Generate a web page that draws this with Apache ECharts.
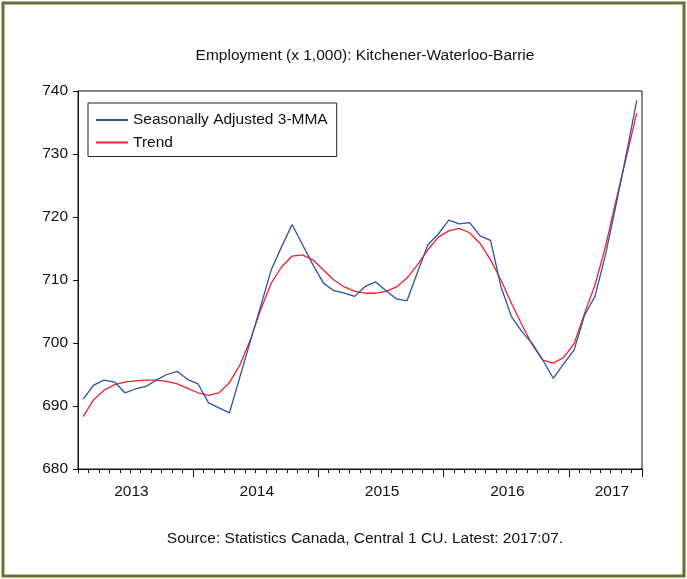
<!DOCTYPE html>
<html>
<head>
<meta charset="utf-8">
<title>Employment Kitchener-Waterloo-Barrie</title>
<script src="https://cdn.jsdelivr.net/npm/echarts@6/dist/echarts.min.js"></script>
<style>
html, body { margin: 0; padding: 0; background: #fff; }
#chart { width: 687px; height: 579px; }
</style>
</head>
<body>
<div id="chart"></div>
<script>
// monthly, 2013:02 .. 2017:07
var months = [];
for (var y = 2013; y <= 2017; y++) {
    for (var m = 1; m <= 12; m++) {
        if (y === 2013 && m < 2) continue;
        if (y === 2017 && m > 7) break;
        months.push(y + ':' + (m < 10 ? '0' + m : m));
    }
}

var seasAdj = [
    691.1, 693.3, 694.1, 693.8, 692.1, 692.7, 693.1, 694.1, 695.0, 695.5, 694.2,
    693.5, 690.5, 689.7, 688.9, 694.6, 700.3, 705.9, 711.6, 715.3, 718.8, 715.6, 712.4, 709.5,
    708.3, 707.9, 707.4, 709.0, 709.7, 708.3, 707.0, 706.7, 711.2, 715.6, 717.3, 719.5,
    718.9, 719.1, 717.0, 716.3, 708.9, 704.2, 701.8, 699.9, 697.3, 694.4, 696.7, 698.9,
    704.4, 707.4, 714.0, 721.8, 730.0, 738.5
];
var trend = [
    688.3, 691.0, 692.5, 693.4, 693.8, 694.0, 694.1, 694.1, 693.9, 693.5, 692.8,
    692.1, 691.7, 692.1, 693.7, 696.5, 700.5, 705.3, 709.5, 712.1, 713.8, 714.0, 713.2, 711.6,
    710.0, 708.9, 708.2, 707.9, 707.9, 708.2, 708.9, 710.3, 712.4, 714.8, 716.8, 717.8,
    718.2, 717.5, 715.8, 713.2, 710.0, 706.3, 702.9, 699.7, 697.3, 696.8, 697.7, 699.9,
    704.7, 709.2, 715.3, 722.5, 729.5, 736.5
];

var yearLabelAt = ['2013:07', '2014:07', '2015:07', '2016:07', '2017:05'];
var seriesNames = ['Seasonally Adjusted 3-MMA', 'Trend'];

var font = '"Liberation Sans", Arial, sans-serif';
var fs = 15.5;
var chart = echarts.init(document.getElementById('chart'));

var option = {
    backgroundColor: '#fff',
    animation: false,
    title: [{
        text: 'Employment (x 1,000): Kitchener-Waterloo-Barrie',
        left: 360,
        top: 43,
        textAlign: 'center',
        textStyle: { fontFamily: font, fontSize: fs, fontWeight: 'normal', color: '#111' }
    }, {
        text: 'Source: Statistics Canada, Central 1 CU. Latest: 2017:07.',
        left: 360,
        top: 526,
        textAlign: 'center',
        textStyle: { fontFamily: font, fontSize: fs, fontWeight: 'normal', color: '#111' }
    }],
    graphic: [{
        type: 'rect',
        shape: { x: 3, y: 3, width: 681, height: 573 },
        style: { fill: 'none', stroke: '#6e6e30', lineWidth: 3 },
        silent: true
    }],
    legend: {
        orient: 'vertical',
        left: 88,
        top: 103,
        padding: [9, 9, 6, 8],
        itemGap: 6.5,
        itemWidth: 32,
        itemHeight: 2,
        icon: 'rect',
        borderColor: '#222',
        borderWidth: 1,
        backgroundColor: '#fff',
        data: seriesNames,
        textStyle: { fontFamily: font, fontSize: fs, color: '#111', lineHeight: 16 }
    },
    grid: {
        left: 78,
        right: 45,
        top: 91,
        bottom: 110,
        show: true,
        borderColor: '#111',
        borderWidth: 1,
        backgroundColor: '#fff'
    },
    xAxis: [{
        type: 'category',
        data: months,
        boundaryGap: true,
        axisLine: { lineStyle: { color: '#111', width: 1 } },
        axisTick: { show: true, interval: 0, length: 4, lineStyle: { color: '#111' } },
        axisLabel: {
            interval: function (i, v) { return yearLabelAt.indexOf(v) >= 0; },
            formatter: function (v) { return v.slice(0, 4); },
            margin: 15,
            padding: [0, 8, 0, 0],
            fontFamily: font,
            fontSize: fs,
            color: '#111'
        },
        splitLine: { show: false }
    }, {
        type: 'category',
        data: months,
        boundaryGap: true,
        position: 'bottom',
        axisLine: { show: false },
        axisTick: {
            show: true,
            length: 8,
            interval: function (i, v) { return v.slice(5) === '01'; },
            lineStyle: { color: '#111' }
        },
        axisLabel: { show: false },
        splitLine: { show: false }
    }],
    yAxis: {
        type: 'value',
        min: 680,
        max: 740,
        interval: 10,
        axisLine: { show: true, lineStyle: { color: '#111' } },
        axisTick: { show: true, length: 5, lineStyle: { color: '#111' } },
        axisLabel: { margin: 10, fontFamily: font, fontSize: fs, color: '#111' },
        splitLine: { show: false }
    },
    series: [{
        name: seriesNames[0],
        type: 'line',
        data: seasAdj,
        showSymbol: false,
        symbol: 'none',
        lineStyle: { color: '#3050a6', width: 1.3 },
        itemStyle: { color: '#3050a6' },
        z: 3
    }, {
        name: seriesNames[1],
        type: 'line',
        data: trend,
        showSymbol: false,
        symbol: 'none',
        lineStyle: { color: '#f02030', width: 1.3 },
        itemStyle: { color: '#f02030' },
        z: 2
    }]
};
chart.setOption(option);
</script>
</body>
</html>
